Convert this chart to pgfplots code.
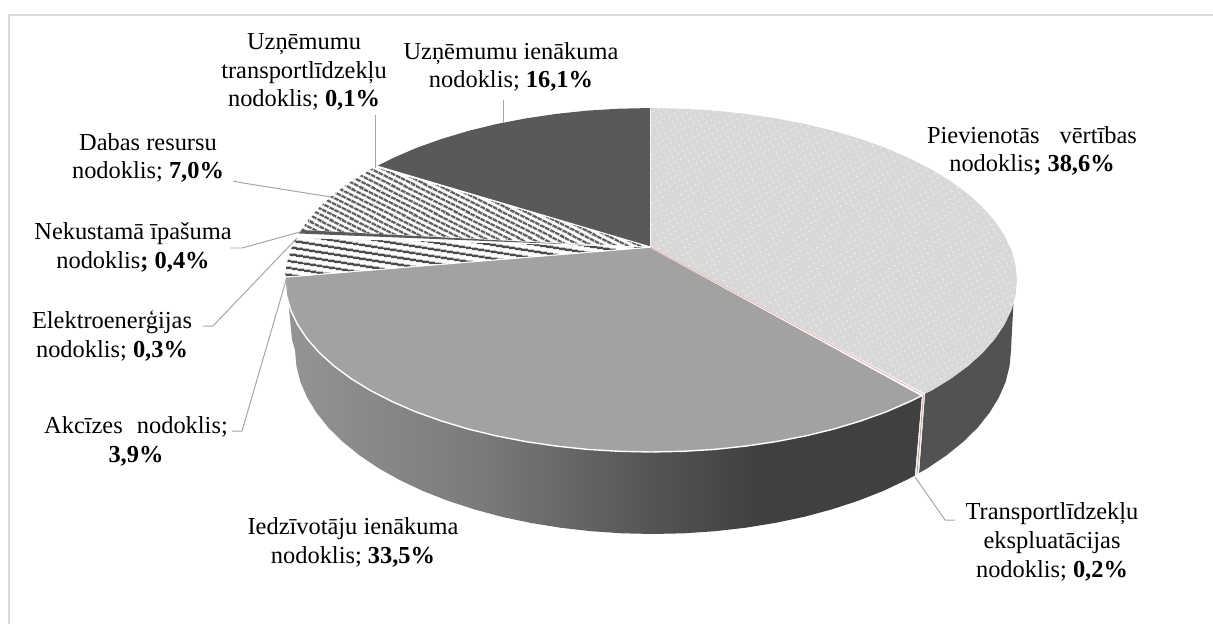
\documentclass[border=0pt]{standalone}
\usepackage{pgfplots}
\pgfplotsset{compat=1.18}
\usepackage{fontspec}
\setmainfont{Liberation Serif}
\usetikzlibrary{patterns,patterns.meta}
\definecolor{lead}{HTML}{A6A6A6}
\definecolor{frameg}{HTML}{D9D9D9}
\definecolor{vatc}{HTML}{D8D8D8}
\definecolor{pitc}{HTML}{A2A2A2}
\definecolor{corpc}{HTML}{595959}
\definecolor{sidec}{HTML}{525252}
\definecolor{pinkc}{HTML}{E6A9A9}
\pgfdeclarehorizontalshading{pitside}{100bp}{%
  color(0bp)=(black!42); color(25bp)=(black!42); color(40bp)=(black!52);
  color(53.8bp)=(black!67); color(62bp)=(black!75); color(75bp)=(black!75); color(100bp)=(black!75)}
\tikzset{lab/.style={align=center,anchor=base,font=\fontsize{24.5}{28.8}\selectfont,inner sep=0pt}}
\begin{document}
\begin{tikzpicture}[x=1bp,y=1bp]
\useasboundingbox (0,0) rectangle (1213bp,624bp);
\begin{axis}[at={(0,0)},anchor=south west,scale only axis,width=1213bp,height=624bp,
  xmin=0,xmax=1213,ymin=0,ymax=624,y dir=reverse,hide axis,no markers,clip=false,
  every axis plot/.append style={line join=round}]
% frame
\addplot[frameg,line width=2pt] coordinates {(9,624) (9,15) (1213,15)};
% side VAT
\addplot[draw=none,fill=sidec] coordinates {(1013.4,304) (1011.4,309.9) (1004.5,324.5) (994.9,338.8) (982.7,352.7) (968,366) (950.8,378.7) (931.4,390.6) (925,393.6)
 (919,473) (927.3,468.3) (946.3,455.5) (963,442) (977.5,427.8) (989.4,412.9) (998.8,397.6) (1005.6,382) (1009.6,366) (1011,350)} -- cycle;
% side PIT
\addplot[draw=none,shading=pitside,shading angle=0] coordinates {(922,395.6) (909.8,401.6) (886.3,411.8) (860.9,420.9) (834,429) (805.7,435.9) (776.2,441.6) (745.7,446.1) (714.6,449.4) (682.9,451.3) (651,452) (619.1,451.3) (587.4,449.4) (556.3,446.1) (525.8,441.6) (496.3,435.9) (468,429) (441.1,420.9) (415.7,411.8) (392.2,401.6) (370.6,390.6) (351.2,378.7) (334,366) (319.3,352.7) (307.1,338.8) (297.5,324.5) (288.6,304)
 (292,340) (295,350) (296.4,366) (300.4,382) (307.2,397.6) (316.6,412.9) (328.5,427.8) (343,442) (359.7,455.5) (378.7,468.3) (399.9,480.1) (422.9,491) (447.7,500.7) (474,509.3) (501.7,516.8) (530.6,522.9) (560.3,527.7) (590.8,531.2) (621.8,533.3) (653,534) (684.2,533.3) (715.2,531.2) (745.7,527.7) (775.4,522.9) (804.3,516.8) (832,509.3) (858.3,500.7) (883.1,491) (906.1,480.1) (915,475.5)} -- cycle;
% side transport sliver
\addplot[draw=none,fill=white!85!pinkc] coordinates {(925,393.6) (922,395.6) (915,475.5) (919,473)} -- cycle;
\addplot[pinkc!70!black,line width=0.5pt] coordinates {(923.5,395) (917,474)};
% top VAT
\addplot[draw=none,fill=vatc] coordinates {(650.5,247) (651,108) (682.9,108.7) (714.6,110.6) (745.7,113.9) (776.2,118.4) (805.7,124.1) (834,131) (860.9,139.1) (886.3,148.2) (909.8,158.4) (931.4,169.4) (950.8,181.3) (968,194) (982.7,207.3) (994.9,221.2) (1004.5,235.5) (1011.4,250.1) (1015.6,265) (1017,280) (1015.6,295) (1011.4,309.9) (1004.5,324.5) (994.9,338.8) (982.7,352.7) (968,366) (950.8,378.7) (931.4,390.6) (925,393.6)} -- cycle;
\addplot[draw=none,pattern={Dots[distance=6bp,radius=0.8bp,angle=30]},pattern color=white!90!vatc] coordinates {(650.5,247) (651,108) (682.9,108.7) (714.6,110.6) (745.7,113.9) (776.2,118.4) (805.7,124.1) (834,131) (860.9,139.1) (886.3,148.2) (909.8,158.4) (931.4,169.4) (950.8,181.3) (968,194) (982.7,207.3) (994.9,221.2) (1004.5,235.5) (1011.4,250.1) (1015.6,265) (1017,280) (1015.6,295) (1011.4,309.9) (1004.5,324.5) (994.9,338.8) (982.7,352.7) (968,366) (950.8,378.7) (931.4,390.6) (925,393.6)} -- cycle;
% top PIT
\addplot[draw=white,line width=1.4pt,fill=pitc] coordinates {(650.5,247) (922,395.6) (909.8,401.6) (886.3,411.8) (860.9,420.9) (834,429) (805.7,435.9) (776.2,441.6) (745.7,446.1) (714.6,449.4) (682.9,451.3) (651,452) (619.1,451.3) (587.4,449.4) (556.3,446.1) (525.8,441.6) (496.3,435.9) (468,429) (441.1,420.9) (415.7,411.8) (392.2,401.6) (370.6,390.6) (351.2,378.7) (334,366) (319.3,352.7) (307.1,338.8) (297.5,324.5) (290.6,309.9) (286.4,295) (285,280) (285.1,277)} -- cycle;
% excise
\addplot[draw=none,pattern={Lines[angle=-9,distance=6bp,line width=2.5bp]},pattern color=black!70] coordinates {(650.5,247) (285.1,277) (286.4,265) (290.6,250.1) (296,238)} -- cycle;
% electricity
\addplot[draw=none,fill=white] coordinates {(650.5,247) (296,238) (299,233.5)} -- cycle;
% natural resources
\addplot[draw=none,pattern={Lines[angle=-27,distance=5.2bp,line width=2.7bp]},pattern color=black!65] coordinates {(650.5,247) (301.5,230) (307.1,221.2) (319.3,207.3) (334,194) (351.2,181.3) (370.6,169.4) (375,167)} -- cycle;
% real estate
\addplot[draw=none,fill=black!65] coordinates {(600,245.6) (299,233.5) (301.5,230)} -- cycle;
% vehicle
\addplot[draw=none,fill=white] coordinates {(650.5,247) (375,167) (377,166)} -- cycle;
% corporate
\addplot[draw=none,fill=corpc] coordinates {(650.5,247) (377,166) (392.2,158.4) (415.7,148.2) (441.1,139.1) (468,131) (496.3,124.1) (525.8,118.4) (556.3,113.9) (587.4,110.6) (619.1,108.7) (651,108)} -- cycle;
% separators
\addplot[white!80!vatc,line width=1.2pt] coordinates {(650.5,108) (650.5,247)};
\addplot[white,line width=1pt] coordinates {(377,166) (650.5,247)};
\addplot[white,line width=0.8pt] coordinates {(285.1,277) (650.5,247)};
\addplot[white,line width=0.8pt] coordinates {(297,237) (650.5,247)};
\addplot[pinkc,line width=0.7pt] coordinates {(650.5,247) (923.5,394.6)};
% leaders
\addplot[lead,line width=1pt] coordinates {(503,100) (503,123)};
\addplot[lead,line width=1pt] coordinates {(375,115) (375,168)};
\addplot[lead,line width=1pt] coordinates {(233,181) (243,183) (331,197)};
\addplot[lead,line width=1pt] coordinates {(230,248) (242,248) (300,232)};
\addplot[lead,line width=1pt] coordinates {(203,326) (213,326) (297,238)};
\addplot[lead,line width=1pt] coordinates {(232,431) (242,431) (287,277)};
\addplot[lead,line width=1pt] coordinates {(915,477) (945,520) (955,520)};
% labels
\node[lab] at (axis cs:304,107) {Uzņēmumu\\transportlīdzekļu\\nodoklis; \textbf{0,1\%}};
\node[lab] at (axis cs:511,88) {Uzņēmumu ienākuma\\nodoklis; \textbf{16,1\%}};
\node[lab] at (axis cs:1032,172) {Pievienotās\hspace{14bp} vērtības\\nodoklis\textbf{; 38,6\%}};
\node[lab] at (axis cs:1052,577) {Transportlīdzekļu\\ekspluatācijas\\nodoklis; \textbf{0,2\%}};
\node[lab] at (axis cs:353,563) {Iedzīvotāju ienākuma\\nodoklis; \textbf{33,5\%}};
\node[lab] at (axis cs:136,462) {Akcīzes\hspace{8bp} nodoklis;\\\textbf{3,9\%}};
\node[lab] at (axis cs:112,357) {Elektroenerģijas\\nodoklis; \textbf{0,3\%}};
\node[lab] at (axis cs:133,268) {Nekustamā īpašuma\\nodoklis\textbf{; 0,4\%}};
\node[lab] at (axis cs:148,179) {Dabas resursu\\nodoklis; \textbf{7,0\%}};
\end{axis}
\end{tikzpicture}
\end{document}
